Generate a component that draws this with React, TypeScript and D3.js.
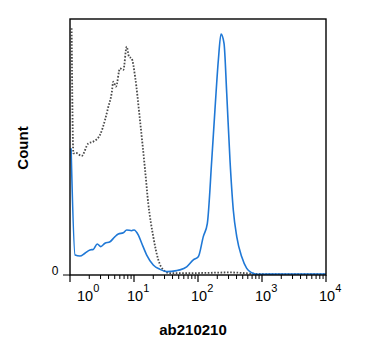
import React from "react";
import * as d3 from "d3";

// Fluorescence intensity (ab210210) vs count (% of max)
const isotypeX = [1.06, 1.13, 1.24, 1.52, 1.93, 2.31, 2.94, 3.52, 3.97, 4.48, 4.75, 5.23, 6.04, 6.81, 7.69, 8.35, 9.2, 10.4, 12.4, 14.9, 16.7, 20.0, 24.0, 28.7, 36.5, 60, 120, 316, 930, 3000, 10000];
const isotypeY = [96.4, 47.5, 47.7, 46.5, 51.4, 52.1, 54.7, 60.5, 65.7, 71.0, 75.5, 73.6, 80.7, 80.1, 89.2, 85.3, 84.6, 77.5, 60.5, 41.0, 28.0, 15.0, 5.9, 2.0, 0.7, 0.7, 0.8, 1.0, 0.4, 0.3, 0.3];

const stainedX = [1.04, 1.2, 1.43, 1.71, 2.05, 2.31, 2.67, 3.02, 3.52, 4.22, 5.05, 5.69, 6.81, 7.69, 9.2, 10.0, 11.7, 13.2, 15.8, 20.0, 25.5, 32.4, 46.4, 52.3, 66.5, 84.5, 101, 121, 140, 164, 184, 208, 229, 255, 281, 316, 356, 403, 482, 577, 690, 826, 2000, 10000];
const stainedY = [49.5, 7.8, 7.4, 8.5, 9.8, 10.0, 12.1, 11.1, 12.4, 13.0, 15.0, 16.0, 16.5, 17.6, 17.3, 17.6, 15.6, 12.4, 7.8, 3.9, 2.2, 1.3, 1.7, 2.0, 3.2, 5.9, 7.1, 15.0, 20.2, 44.9, 64.5, 84.0, 94.1, 90.5, 71.0, 44.9, 25.4, 15.0, 7.1, 2.6, 0.9, 0.3, 0.4, 0.4];

const majorTicks = [1, 10, 100, 1000, 10000];
const tickExponents = ["0", "1", "2", "3", "4"];
const xTitle = "ab210210";
const yTitle = "Count";

export default function App() {
  const W = 375, H = 356;
  const left = 70, right = 326, top = 19, bottom = 275;
  const x = d3.scaleLog().domain([1, 10000]).range([left, right]);
  const y = d3.scaleLinear().domain([0, 100]).range([bottom, top]);

  const line = d3
    .line<[number, number]>()
    .x((d) => x(d[0]))
    .y((d) => y(d[1]))
    .curve(d3.curveMonotoneX);

  const iso = isotypeX.map((v, i) => [v, isotypeY[i]] as [number, number]);
  const stn = stainedX.map((v, i) => [v, stainedY[i]] as [number, number]);

  const minorTicks: number[] = [];
  for (let e = 0; e < 4; e++) {
    for (let m = 2; m <= 9; m++) minorTicks.push(m * Math.pow(10, e));
  }

  const font = "'Liberation Sans', Arial, sans-serif";

  return (
    <svg
      width={W}
      height={H}
      style={{ position: "absolute", left: 0, top: 0, background: "#fff" }}
      fontFamily={font}
    >
      <rect x={0} y={0} width={W} height={H} fill="#fff" />
      <defs>
        <clipPath id="plotclip">
          <rect x={left} y={top - 2} width={right - left} height={bottom - top + 2} />
        </clipPath>
      </defs>
      <g clipPath="url(#plotclip)">
        <path
          d={line(iso) || ""}
          fill="none"
          stroke="#4a4a4a"
          strokeWidth={1.8}
          strokeDasharray="1.6 1.6"
        />
        <path d={line(stn) || ""} fill="none" stroke="#1f78d6" strokeWidth={1.6} />
      </g>
      {/* frame */}
      <rect
        x={left}
        y={top}
        width={right - left}
        height={bottom - top}
        fill="none"
        stroke="#000"
        strokeWidth={1.4}
      />
      {/* x ticks */}
      {minorTicks.map((t, i) => (
        <line key={"m" + i} x1={x(t)} x2={x(t)} y1={bottom} y2={bottom + 4} stroke="#000" strokeWidth={1} />
      ))}
      {majorTicks.map((t, i) => (
        <line key={"M" + i} x1={x(t)} x2={x(t)} y1={bottom} y2={bottom + 7} stroke="#000" strokeWidth={1.2} />
      ))}
      {majorTicks.map((t, i) => (
        <text key={"L" + i} x={i === 0 ? x(t) + 7 : x(t) - 7} y={301} fontSize={14.5} fill="#000">
          10
          <tspan dy={-9} fontSize={11}>
            {tickExponents[i]}
          </tspan>
        </text>
      ))}
      {/* y zero tick */}
      <line x1={left - 7} x2={left} y1={bottom} y2={bottom} stroke="#000" strokeWidth={1} />
      <text x={55} y={275} fontSize={12} textAnchor="middle" fill="#000">
        0
      </text>
      <text
        transform={`translate(28,148) rotate(-90)`}
        textAnchor="middle"
        fontSize={15}
        fontWeight="bold"
        fill="#000"
      >
        {yTitle}
      </text>
      <text x={193} y={335} textAnchor="middle" fontSize={15} fontWeight="bold" fill="#000">
        {xTitle}
      </text>
    </svg>
  );
}
